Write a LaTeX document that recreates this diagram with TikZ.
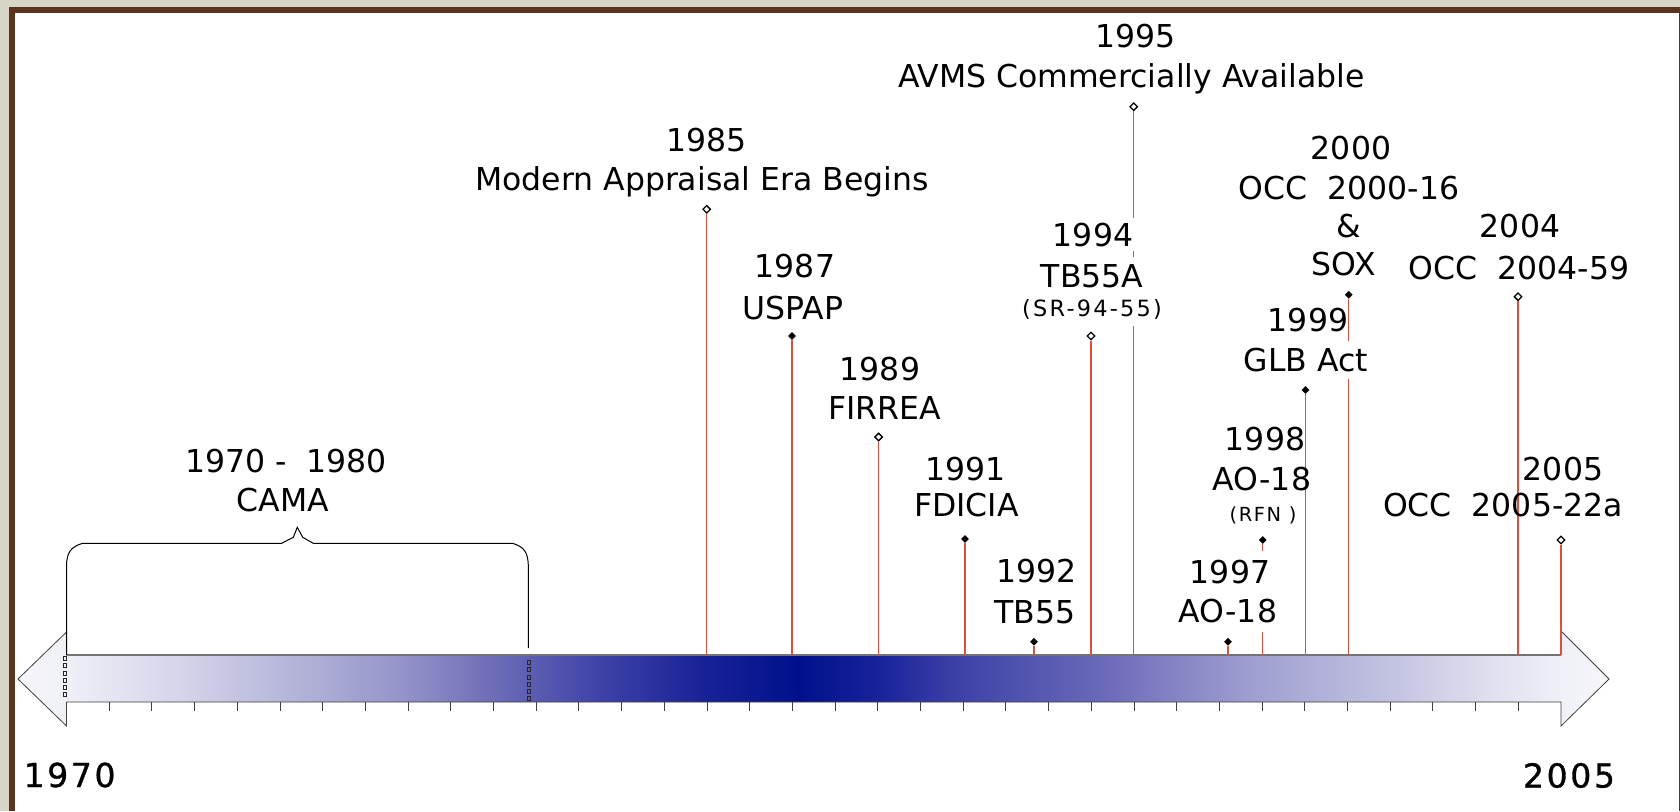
\documentclass[tikz,border=0pt]{standalone}
\usepackage{fontspec}
\setmainfont{DejaVu Sans}
\usetikzlibrary{shapes.geometric}
\definecolor{frameBrown}{RGB}{93,50,30}
\definecolor{beige}{RGB}{215,213,198}
\definecolor{evred}{RGB}{222,78,62}
\definecolor{ga}{RGB}{246,246,250}
\definecolor{gb}{RGB}{240,240,248}
\definecolor{gc}{RGB}{212,212,234}
\definecolor{gd}{RGB}{178,178,216}
\definecolor{ge}{RGB}{148,148,202}
\definecolor{gf}{RGB}{108,108,184}
\definecolor{gg}{RGB}{62,66,168}
\definecolor{gh}{RGB}{25,35,152}
\definecolor{gi}{RGB}{0,16,140}
\definecolor{gj}{RGB}{25,35,155}
\definecolor{gk}{RGB}{62,66,168}
\definecolor{gl}{RGB}{105,105,185}
\definecolor{gm}{RGB}{158,158,208}
\definecolor{gn}{RGB}{192,192,224}
\definecolor{go}{RGB}{226,226,241}
\definecolor{gp}{RGB}{240,240,248}
\definecolor{gq}{RGB}{246,246,250}
\pgfdeclarehorizontalshading{barshade}{100bp}{color(0bp)=(ga); color(25bp)=(ga); color(26.5bp)=(gb); color(30.1bp)=(gc); color(33.9bp)=(gd); color(37.05bp)=(ge); color(40bp)=(gf); color(43.3bp)=(gg); color(46.45bp)=(gh); color(49.55bp)=(gi); color(52.1bp)=(gj); color(54.6bp)=(gk); color(59bp)=(gl); color(63.7bp)=(gm); color(67.8bp)=(gn); color(71.6bp)=(go); color(73.5bp)=(gp); color(75bp)=(gq); color(100bp)=(gq)}
\begin{document}
\begin{tikzpicture}[x=1pt,y=-1pt,
  lab/.style={font=\fontsize{31.5}{36}\selectfont, anchor=base, inner sep=0pt},
  coverlab/.style={lab, fill=white, inner xsep=2pt, inner ysep=7pt},
  smalllab/.style={font=\fontsize{22.4}{26}\selectfont\addfontfeatures{LetterSpace=10}, anchor=base, inner sep=0pt},
  yearlab/.style={font=\fontsize{33}{38}\selectfont\addfontfeatures{LetterSpace=8,FakeBold=1}, anchor=base, inner sep=0pt},
  markfull/.style={shape=diamond, fill=black, minimum width=8pt, minimum height=8pt, inner sep=0pt},
  markopen/.style={shape=diamond, draw=black, fill=white, line width=1.3pt, minimum width=8pt, minimum height=8pt, inner sep=0pt},
  evline/.style={draw=evred, line width=1.3pt},
  tickmark/.style={draw=black!75, line width=1pt},
  handlebox/.style={draw=black!85, line width=0.6pt},
  bracepath/.style={draw=black, line width=1pt}
]
\useasboundingbox (0,0) rectangle (1680,811);
% frame
\fill[beige] (0,0) rectangle (1680,811);
\fill[frameBrown] (9,7) rectangle (1680,811);
\fill[white] (15,13) rectangle (1678.5,811);

% timeline arrow
\path[shading=barshade, draw=black!75, line width=0.8pt]
  (66.5,655) -- (66.5,632) -- (18,679) -- (66.5,726) -- (66.5,702) -- (1561,702)
  -- (1561,726) -- (1609,679) -- (1561,631) -- (1561,655) -- cycle;
\draw[black!55, line width=1.6pt] (66.5,655) -- (1561,655);
\foreach \k in {1,...,34} \draw[tickmark] ({66.5+42.7*\k},702) -- ++(0,9);
\foreach \k in {0,...,5} {
  \draw[handlebox] (63.5,{656.5+7.2*\k}) rectangle ++(3,4);
  \draw[handlebox] (527,{660.5+7.2*\k}) rectangle ++(3,4);
}

% brace
\draw[bracepath] (66.5,655) -- (66.5,567) .. controls (66.5,552) and (71,547) .. (82.5,543.3)
  -- (281.7,543.3) -- (293.3,537.3) -- (297.3,527.3) -- (302.7,537.3) -- (313.3,543.3) -- (512.7,543.3)
  .. controls (524,547) and (528.3,552) .. (528.3,567) -- (528.3,648);

% markers
\node[markopen] (m85) at (706.7,209.3) {};
\node[markfull] (m87) at (792,336) {};
\node[markopen] (m89) at (878.6,437) {};
\node[markfull] (m91) at (965,539) {};
\node[markfull] (m92) at (1034,641.7) {};
\node[markopen] (m94) at (1091,336) {};
\node[markopen] (m95) at (1133.7,106.7) {};
\node[markfull] (m97) at (1228,641.7) {};
\node[markfull] (m98) at (1262.7,540) {};
\node[markfull] (m99) at (1305.5,390) {};
\node[markfull] (m00) at (1348.7,294.7) {};
\node[markopen] (m04) at (1518,296.7) {};
\node[markopen] (m05) at (1561,540) {};

% bar anchors
\coordinate (b85) at (706.7,655);
\coordinate (b87) at (792,655);
\coordinate (b89) at (878.6,655);
\coordinate (b91) at (965,655);
\coordinate (b92) at (1034,655);
\coordinate (b94) at (1091,655);
\coordinate (b95) at (1133.7,655);
\coordinate (b97) at (1228,655);
\coordinate (b98) at (1262.7,655);
\coordinate (b99) at (1305.5,655);
\coordinate (b00) at (1348.7,655);
\coordinate (b04) at (1518,655);
\coordinate (b05) at (1561,655);

\foreach \e in {85,87,89,91,92,94,95,97,98,99,00,04,05}
  \draw[evline] (m\e) -- (b\e);

% labels
\node[lab] (t95a) at (1135.7,47) {1995};
\node[lab] (t95b) at (1131.4,87.5) {AVMS Commercially Available};
\node[lab] (t85a) at (706.6,151) {1985};
\node[lab] (t85b) at (702,190.5) {Modern Appraisal Era Begins};
\node[lab] (t87a) at (795,277.5) {1987};
\node[lab] (t87b) at (793,319) {USPAP};
\node[lab] (t89a) at (880,380) {1989};
\node[lab] (t89b) at (884.5,419.5) {FIRREA};
\node[lab] (t91a) at (965.4,480) {1991};
\node[lab] (t91b) at (966.5,516) {FDICIA};
\node[lab] (t92a) at (1036.6,582.5) {1992};
\node[lab] (t92b) at (1035,623) {TB55};
\node[coverlab, inner ysep=5pt] (t94a) at (1093,246) {1994};
\node[coverlab] (t94b) at (1092,287) {TB55A};
\node[smalllab, fill=white, inner xsep=2pt, inner ysep=7pt] (t94c) at (1092,316.5) {(SR-94-55)};
\node[lab] (t00a) at (1351,159) {2000};
\node[lab] (t00b) at (1349,199) {OCC~~2000-16};
\node[lab] (t00c) at (1348.5,237.5) {\&};
\node[lab] (t00d) at (1344,275) {SOX};
\node[lab] (t04a) at (1520,237.7) {2004};
\node[lab] (t04b) at (1519,279) {OCC~~2004-59};
\node[lab] (t99a) at (1308,331.7) {1999};
\node[coverlab] (t99b) at (1306,371.7) {GLB Act};
\node[lab] (t98a) at (1265,450.7) {1998};
\node[lab] (t98b) at (1262,490.7) {AO-18};
\node[smalllab, font=\fontsize{19.4}{23}\selectfont\addfontfeatures{LetterSpace=8}] (t98c) at (1263,521) {(RFN )};
\node[coverlab, inner ysep=9pt] (t97a) at (1230,583) {1997};
\node[coverlab, inner ysep=9pt] (t97b) at (1228,622.7) {AO-18};
\node[lab] (t05a) at (1563,480) {2005};
\node[lab] (t05b) at (1503,516) {OCC~~2005-22a};
\node[lab] (cama1) at (286,472.7) {1970 -~~1980};
\node[lab] (cama2) at (283,511.7) {CAMA};
\node[yearlab] (y70) at (69.6,787) {1970};
\node[yearlab] (y05) at (1569,787.5) {2005};
\end{tikzpicture}
\end{document}
